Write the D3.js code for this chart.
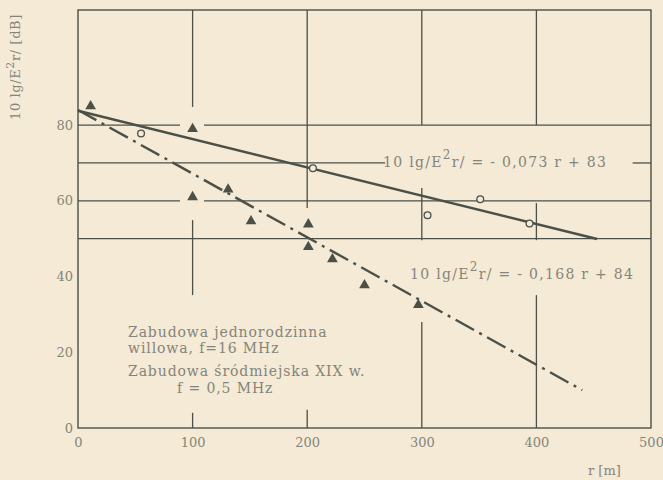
<!DOCTYPE html>
<html>
<head>
<meta charset="utf-8">
<script src="https://cdn.jsdelivr.net/npm/d3@7"></script>
<style>
  body { margin: 0; background: #f4ead6; }
  svg { display: block; }
</style>
</head>
<body>
<div id="chart"></div>
<script>
// values
const xTicks = [0, 100, 200, 300, 400, 500];
const yTicks = [0, 20, 40, 60, 80];

// open circles
const circR = [55, 205, 305, 351, 394];
const circV = [77.8, 68.6, 56.2, 60.4, 54.0];

// filled triangles
const triR = [11, 100, 100, 131, 151, 201, 201, 222, 250, 297];
const triV = [85.0, 79.0, 61.0, 63.0, 54.6, 53.8, 47.8, 44.6, 37.7, 32.5];

// regression lines, end points [r, value]
const solidLine = [[0, 83.8], [453, 49.9]];
const dashLine = [[0, 84], [440, 10]];

// grid pieces as drawn (broken around marks and text)
const vGrid = [
  [100, 110.4, 84.8], [100, 54.9, 35.1], [100, 4, 0],
  [200, 110.4, 58.1], [200, 4.8, 0],
  [300, 110.4, 80], [300, 63.4, 49.6], [300, 28, 0],
  [400, 110.4, 80], [400, 59.4, 49.6], [400, 35.1, 0]
];
const hGrid = [
  [80, 0, 89], [80, 110, 500],
  [70, 0, 268], [70, 484, 500],
  [60, 0, 89], [60, 110, 500],
  [50, 0, 500]
];

const ink = "#4b5048";
const txt = "#85847a";

const margin = { top: 10, right: 12, bottom: 52, left: 78 },
  width = 663 - margin.left - margin.right,
  height = 480 - margin.top - margin.bottom;

const svg = d3.select("#chart")
  .append("svg")
  .attr("width", 663)
  .attr("height", 480)
  .append("g")
  .attr("transform", `translate(${margin.left}, ${margin.top})`);

const x = d3.scaleLinear().domain([0, 500]).range([0, width]);
const y = d3.scaleLinear().domain([0, 110.4]).range([height, 0]);

// frame
svg.append("rect")
  .attr("x", 0).attr("y", 0)
  .attr("width", width).attr("height", height)
  .attr("fill", "none")
  .attr("stroke", ink)
  .attr("stroke-width", 1.4);

// grid
svg.append("g").selectAll("line")
  .data(vGrid)
  .join("line")
  .attr("x1", d => x(d[0])).attr("x2", d => x(d[0]))
  .attr("y1", d => y(d[1])).attr("y2", d => y(d[2]))
  .attr("stroke", ink).attr("stroke-width", 1.3);

svg.append("g").selectAll("line")
  .data(hGrid)
  .join("line")
  .attr("y1", d => y(d[0])).attr("y2", d => y(d[0]))
  .attr("x1", d => x(d[1])).attr("x2", d => x(d[2]))
  .attr("stroke", ink).attr("stroke-width", 1.3);

// axes (labels only)
const xAxis = svg.append("g")
  .attr("transform", `translate(0, ${height})`)
  .call(d3.axisBottom(x).tickValues(xTicks).tickSize(0).tickPadding(10));
const yAxis = svg.append("g")
  .call(d3.axisLeft(y).tickValues(yTicks).tickSize(0).tickPadding(5));
[xAxis, yAxis].forEach(a => {
  a.select(".domain").remove();
  a.selectAll("text")
    .attr("fill", txt)
    .style("font-family", "DejaVu Serif")
    .style("font-size", "13px");
});

// regression lines
const line = d3.line().x(d => x(d[0])).y(d => y(d[1]));
svg.append("path")
  .datum(solidLine)
  .attr("d", line)
  .attr("fill", "none")
  .attr("stroke", ink)
  .attr("stroke-width", 2.6);
svg.append("path")
  .datum(dashLine)
  .attr("d", line)
  .attr("fill", "none")
  .attr("stroke", ink)
  .attr("stroke-width", 2.4)
  .attr("stroke-dasharray", "21,6,3,6");

// marks
svg.append("g").selectAll("circle")
  .data(circR.map((r, i) => [r, circV[i]]))
  .join("circle")
  .attr("cx", d => x(d[0]))
  .attr("cy", d => y(d[1]))
  .attr("r", 3.4)
  .attr("fill", "#f4ead6")
  .attr("stroke", ink)
  .attr("stroke-width", 1.3);

svg.append("g").selectAll("path")
  .data(triR.map((r, i) => [r, triV[i]]))
  .join("path")
  .attr("transform", d => `translate(${x(d[0])}, ${y(d[1])})`)
  .attr("d", d3.symbol(d3.symbolTriangle, 50))
  .attr("fill", ink);

// texts
const font = "DejaVu Serif";
function eq(tx, ty, rest) {
  const t = svg.append("text")
    .attr("x", tx).attr("y", ty)
    .attr("fill", txt)
    .style("font-family", font)
    .style("font-size", "14px")
    .style("letter-spacing", "1.3px");
  t.append("tspan").text("10 lg/E");
  t.append("tspan").attr("dy", -8).style("font-size", "12px").text("2");
  t.append("tspan").attr("dy", 8).text("r/ = " + rest);
}
eq(305, 157, "- 0,073 r + 83");
eq(332, 269, "- 0,168 r + 84");

const legend = [
  ["Zabudowa jednorodzinna", 50, 327],
  ["willowa, f=16 MHz", 50, 343],
  ["Zabudowa śródmiejska XIX w.", 50, 366],
  ["f = 0,5 MHz", 99, 383]
];
svg.append("g").selectAll("text")
  .data(legend)
  .join("text")
  .attr("x", d => d[1]).attr("y", d => d[2])
  .attr("fill", txt)
  .style("font-family", font)
  .style("font-size", "14px")
  .style("letter-spacing", "0.9px")
  .text(d => d[0]);

svg.append("text")
  .attr("x", 510).attr("y", 465)
  .attr("fill", txt)
  .style("font-family", font)
  .style("font-size", "13px")
  .text("r [m]");

const yl = svg.append("text")
  .attr("transform", `translate(${-58}, ${57}) rotate(-90)`)
  .attr("text-anchor", "middle")
  .attr("fill", txt)
  .style("font-family", font)
  .style("font-size", "13px")
  .style("letter-spacing", "0.6px");
yl.append("tspan").text("10 lg/E");
yl.append("tspan").attr("dy", -6).style("font-size", "11px").text("2");
yl.append("tspan").attr("dy", 6).text("r/   [dB]");
</script>
</body>
</html>
